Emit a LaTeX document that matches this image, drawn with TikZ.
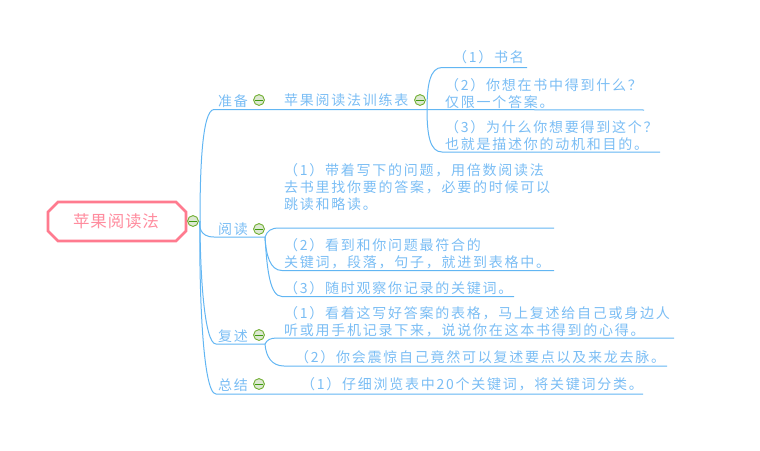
\documentclass[tikz,border=0pt]{standalone}
\usepackage{fontspec}
\newfontfamily\cjk[LetterSpace=12.5]{Noto Sans CJK SC}
\newfontfamily\cjkroot[LetterSpace=5]{Noto Sans CJK SC}
\definecolor{txtblue}{HTML}{7ABDF4}
\definecolor{linkblue}{HTML}{62B6F3}
\definecolor{rootpink}{HTML}{FF7B8F}
\definecolor{roottxt}{HTML}{FF8C9E}
\definecolor{foldgreen}{HTML}{6FAE30}
\definecolor{foldfill}{HTML}{DDE8D2}
\definecolor{foldbar}{HTML}{3F9A10}
\tikzset{
  topic/.style={anchor=west,inner sep=0pt,outer sep=0pt,align=left,text=txtblue,font=\cjk\fontsize{14}{16.6}\selectfont},
  link/.style={draw=linkblue,line width=1pt},
  fold/.pic={
    \fill[foldfill,draw=foldgreen,line width=0.9pt] (0,0) circle (5.4);
    \draw[foldbar,line width=1pt] (-3.6,0) -- (3.6,0);
  }
}
\begin{document}
\begin{tikzpicture}[x=1pt,y=-1pt]
\useasboundingbox (0,0) rectangle (760,450);
% root
\node[inner sep=0pt,text=roottxt,font=\cjkroot\fontsize{16.5}{18}\selectfont] (root) at (116,221) {苹果阅读法};
\draw[rootpink,line width=2.8pt,line join=miter] (58,202) -- (176,202) -- (186,212) -- (186,231) -- (176,241) -- (58,241) -- (48,231) -- (48,212) -- cycle;
% coordinates
\coordinate (hub) at (200,221);
\coordinate (a1) at (214,109.5); \coordinate (a2) at (427,109.5);
\coordinate (b1) at (214,237); \coordinate (b2) at (265,237);
\coordinate (c1) at (216,344); \coordinate (c2) at (265,344);
\coordinate (d1) at (216,394); \coordinate (d2) at (643,394);
% level 1 links
\draw[link] (hub) .. controls (200,170) and (202,110) .. (a1) -- (a2);
\draw[link] (hub) .. controls (199,225) and (199,237) .. (b1) -- (b2);
\draw[link] (hub) .. controls (200,270) and (204,344) .. (c1) -- (c2);
\draw[link] (hub) .. controls (199,280) and (202,394) .. (d1) -- (d2);
% level 2 under a2
\coordinate (e1) at (442,67.5); \coordinate (e1e) at (527,67.5);
\coordinate (e2e) at (644,110);
\coordinate (e3) at (442,152); \coordinate (e3e) at (660,152);
\draw[link] (a2) .. controls (427,85) and (430,67.5) .. (e1) -- (e1e);
\draw[link] (a2) -- (e2e);
\draw[link] (a2) .. controls (427,135) and (430,152) .. (e3) -- (e3e);
% level 2 under b2
\coordinate (f1) at (279,228); \coordinate (f1e) at (554,228);
\coordinate (f2) at (282,270.5); \coordinate (f2e) at (554,270.5);
\coordinate (f3) at (282,296.5); \coordinate (f3e) at (514,296.5);
\draw[link] (b2) .. controls (267,231) and (271,228) .. (f1) -- (f1e);
\draw[link] (b2) .. controls (266,255) and (270,270.5) .. (f2) -- (f2e);
\draw[link] (b2) .. controls (267,270) and (270,296.5) .. (f3) -- (f3e);
% level 2 under c2
\coordinate (g1) at (277,338); \coordinate (g1e) at (674,338);
\coordinate (g2) at (284,366); \coordinate (g2e) at (667,366);
\draw[link] (c2) .. controls (267,340) and (270,338) .. (g1) -- (g1e);
\draw[link] (c2) .. controls (266,357) and (272,366) .. (g2) -- (g2e);
% folds
\pic at (193,221) {fold};
\pic at (259,100) {fold};
\pic at (420,100) {fold};
\pic at (259,229) {fold};
\pic at (259,335) {fold};
\pic at (259,384) {fold};
% topics
\node[topic] (t1) at (218,101) {准备};
\node[topic] (t2) at (218,229) {阅读};
\node[topic] (t3) at (218,336) {复述};
\node[topic] (t4) at (218,385) {总结};
\node[topic] (t11) at (284,100) {苹果阅读法训练表};
\node[topic] (p1) at (453,57) {（1）书名};
\node[topic] (p2) at (445,93.5) {（2）你想在书中得到什么？\\仅限一个答案。};
\node[topic] (p3) at (445,135.5) {（3）为什么你想要得到这个？\\也就是描述你的动机和目的。};
\node[topic] (q1) at (284,187) {（1）带着写下的问题，用倍数阅读法\\去书里找你要的答案，必要的时候可以\\跳读和略读。};
\node[topic] (q2) at (284,254) {（2）看到和你问题最符合的\\关键词，段落，句子，就进到表格中。};
\node[topic] (q3) at (284,288) {（3）随时观察你记录的关键词。};
\node[topic] (r1) at (284,321.5) {（1）看着这写好答案的表格，马上复述给自己或身边人\\听或用手机记录下来，说说你在这本书得到的心得。};
\node[topic] (r2) at (295,357) {（2）你会震惊自己竟然可以复述要点以及来龙去脉。};
\node[topic] (s1) at (301,384) {（1）仔细浏览表中20个关键词，将关键词分类。};
\end{tikzpicture}
\end{document}
